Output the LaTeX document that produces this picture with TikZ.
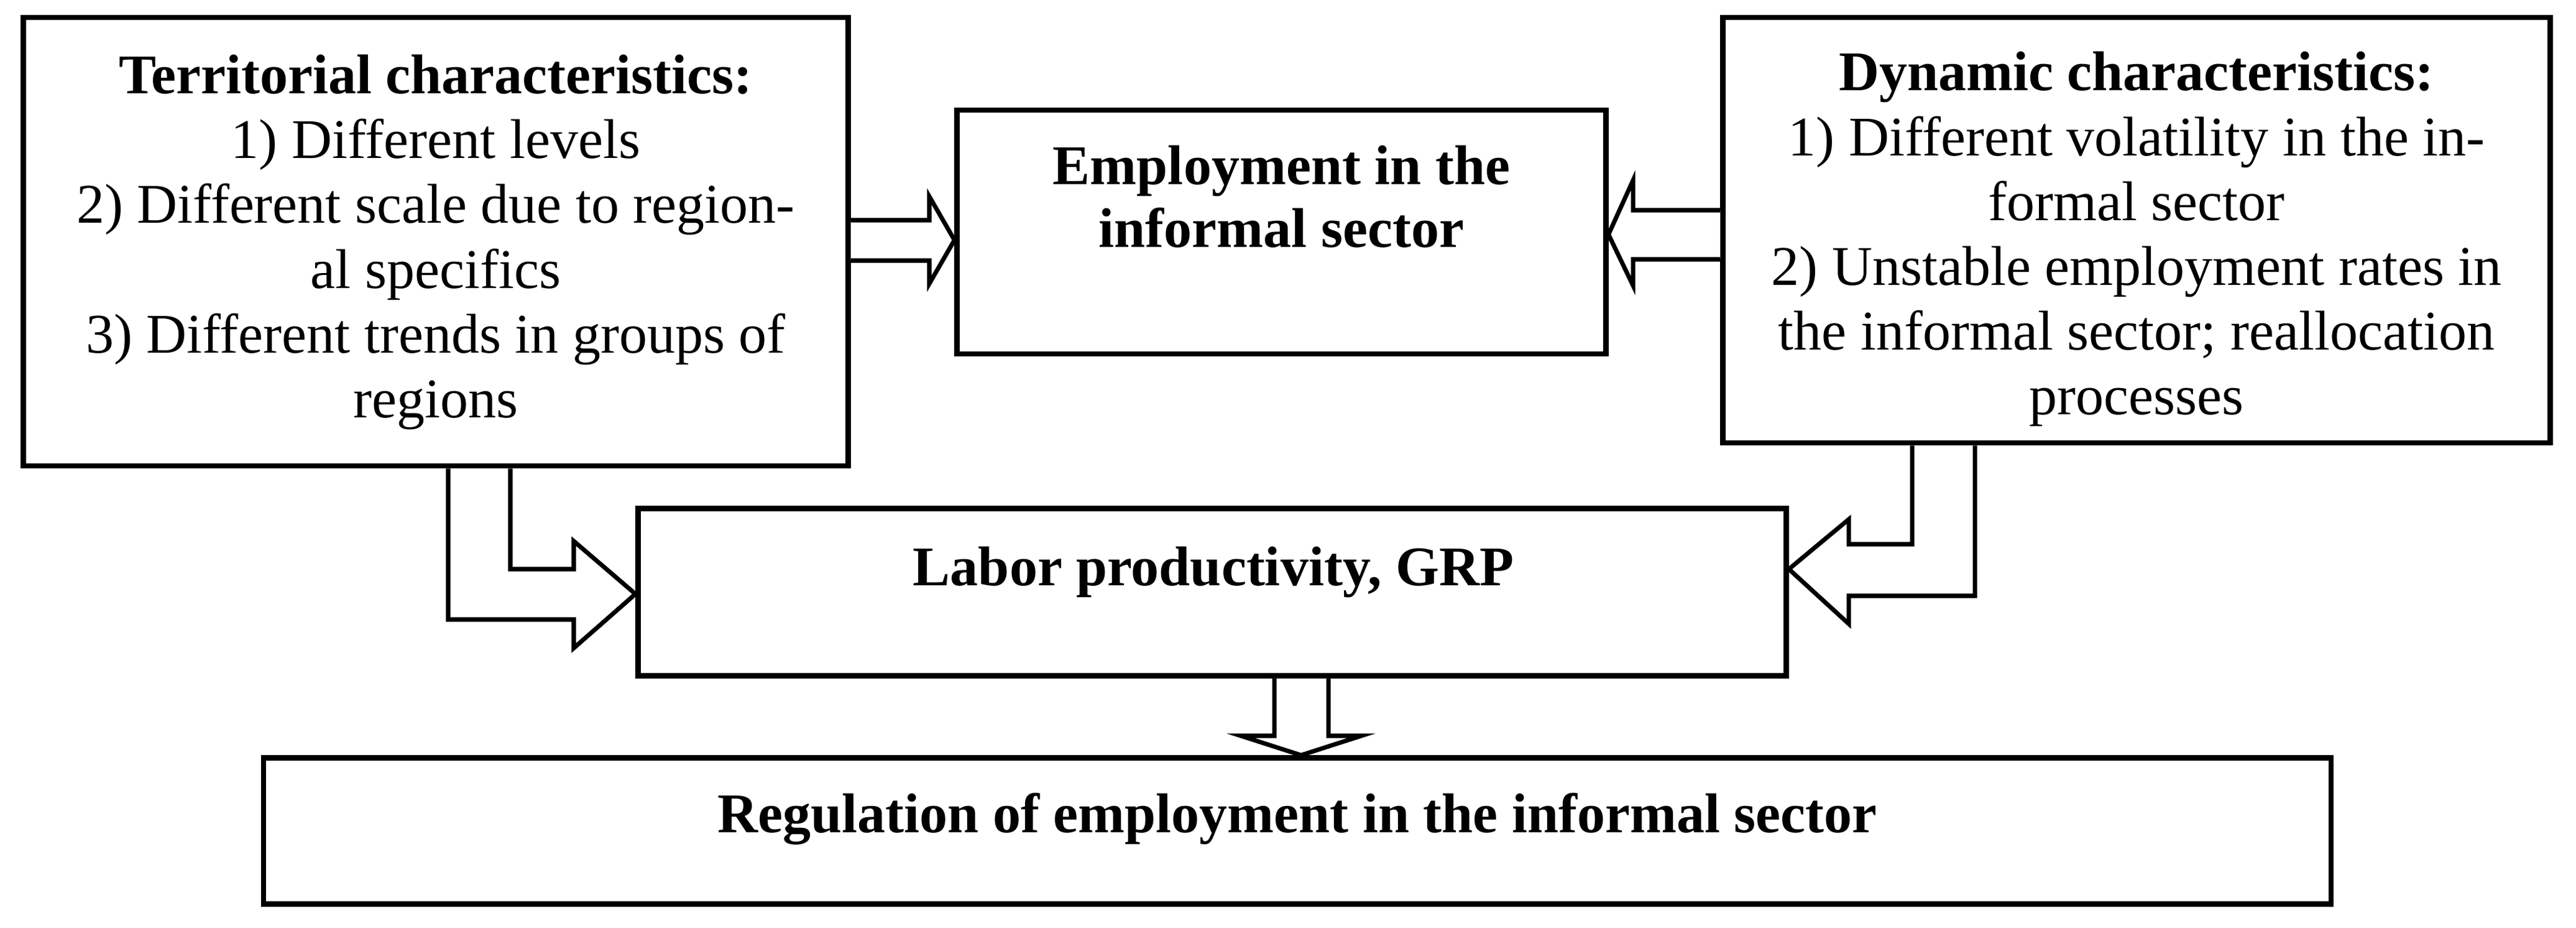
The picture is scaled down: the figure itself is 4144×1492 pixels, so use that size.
\documentclass[tikz,border=0pt]{standalone}
\usepackage{fontspec}
\setmainfont{Liberation Serif}
\usepackage{tikz}

\begin{document}
\begin{tikzpicture}[
    x=0.01cm, y=-0.01cm,
    box/.style={draw, line width=2.4pt, inner sep=0pt},
    txt/.style={align=center, inner sep=0pt, font=\fontsize{25.6}{29.6}\selectfont},
    hollow/.style={draw, line width=2pt, fill=white, line join=miter}
]
    \useasboundingbox (0,0) rectangle (4144,1492);

    % Boxes
    \node[box, minimum width=13.26cm, minimum height=7.21cm] (terr) at (701,388.5) {};
    \node[box, minimum width=10.43cm, minimum height=3.92cm] (empl) at (2061.5,373) {};
    \node[box, minimum width=13.30cm, minimum height=6.84cm] (dyn) at (3437,370) {};
    \node[box, minimum width=18.46cm, minimum height=2.69cm] (labor) at (1950,952) {};
    \node[box, minimum width=33.24cm, minimum height=2.35cm] (reg) at (2087,1336) {};

    % Box texts
    \node[txt] (terrtext) at (701,389.5) {\textbf{Territorial characteristics:}\\
        1) Different levels\\
        2) Different scale due to region-\\
        al specifics\\
        3) Different trends in groups of\\
        regions};
    \node[txt, font=\fontsize{25.6}{28.7}\selectfont] (empltext) at (2061.5,316) {\textbf{Employment in the}\\
        \textbf{informal sector}};
    \node[txt] (dyntext) at (3437,384.5) {\textbf{Dynamic characteristics:}\\
        1) Different volatility in the in-\\
        formal sector\\
        2) Unstable employment rates in\\
        the informal sector; reallocation\\
        processes};
    \node[txt] (labortext) at (1952,919.5) {\textbf{Labor productivity, GRP}};
    \node[txt] (regtext) at (2087,1316.5) {\textbf{Regulation of employment in the informal sector}};

    % Block arrows into the employment box
    \draw[hollow] (terr.east |- 0,354) -- (1495,354) -- (1495,316) -- (empl.west |- 0,386)
        -- (1495,456) -- (1495,419) -- (terr.east |- 0,419);
    \draw[hollow] (dyn.west |- 0,338) -- (2627,338) -- (2627,290) -- (empl.east |- 0,377)
        -- (2627,459) -- (2627,417) -- (dyn.west |- 0,417);

    % Bent arrows into labor productivity
    \draw[hollow] (terr.south -| 721,0) -- (721,996) -- (923,996) -- (923,1042) -- (labor.west |- 0,955)
        -- (923,870) -- (923,915) -- (821,915) -- (terr.south -| 821,0);
    \draw[hollow] (dyn.south -| 3076,0) -- (3076,875) -- (2974,875) -- (2974,835) -- (labor.east |- 0,915)
        -- (2974,1003) -- (2974,958) -- (3177,958) -- (dyn.south -| 3177,0);

    % Down to regulation
    \draw[hollow] (labor.south -| 2050,0) -- (2050,1183) -- (1996,1183) -- (reg.north -| 2093,0)
        -- (2190,1183) -- (2137,1183) -- (labor.south -| 2137,0);
\end{tikzpicture}
\end{document}
